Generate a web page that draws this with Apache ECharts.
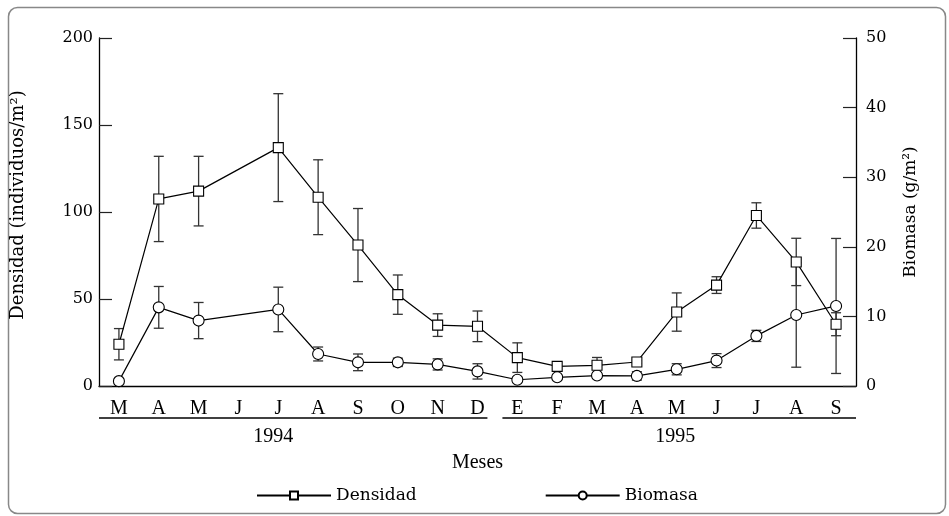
<!DOCTYPE html>
<html>
<head>
<meta charset="utf-8">
<script src="https://cdn.jsdelivr.net/npm/echarts@6/dist/echarts.min.js"></script>
<style>
html,body{margin:0;padding:0;background:#fff;}
#chart{width:949px;height:516px;}
</style>
</head>
<body>
<div id="chart"></div>
<script>
// Months (March 1994 to September 1995)
const months = ['M','A','M','J','J','A','S','O','N','D','E','F','M','A','M','J','J','A','S'];
// Densidad (individuos/m²) mean and error
const densidad = [24, 107.5, 112, null, 137, 108.5, 81, 52.5, 35, 34.3, 16.3, 11.3, 11.9, 13.8, 42.5, 58, 98, 71.3, 35.5];
const densidadErr = [9, 24.5, 20, null, 31, 21.5, 21, 11.3, 6.5, 8.8, 8.5, 0, 4.5, 1, 11, 4.8, 7.3, 13.6, 6.6];
// Biomasa (g/m²) mean and error
const biomasa = [0.7, 11.3, 9.4, null, 11.0, 4.6, 3.4, 3.4, 3.1, 2.1, 0.9, 1.25, 1.5, 1.45, 2.4, 3.65, 7.2, 10.2, 11.5];
const biomasaErr = [0, 3, 2.6, null, 3.2, 1, 1.2, 0.6, 0.8, 1.1, 0.4, 0.3, 0.4, 0.6, 0.8, 1, 0.8, 7.5, 9.7];
// Axis ticks
const leftTicks = {min: 0, max: 200, interval: 50};
const rightTicks = {min: 0, max: 50, interval: 10};
// Year groups: [label, first month index, last month index]
const years = [['1994', 0, 9], ['1995', 10, 18]];

const serifWide = 'DejaVu Serif';
const serifNarrow = 'Liberation Serif';

function errData(vals, errs) {
  const out = [];
  vals.forEach((v, i) => {
    if (v != null && errs[i] > 0) out.push([i, v - errs[i], v + errs[i]]);
  });
  return out;
}

function errRender(params, api) {
  const i = api.value(0);
  const lo = api.coord([i, api.value(1)]);
  const hi = api.coord([i, api.value(2)]);
  const w = 5;
  const st = {stroke: '#333', lineWidth: 1.3};
  return {
    type: 'group',
    children: [
      {type: 'line', shape: {x1: hi[0], y1: hi[1], x2: lo[0], y2: lo[1]}, style: st},
      {type: 'line', shape: {x1: hi[0] - w, y1: hi[1], x2: hi[0] + w, y2: hi[1]}, style: st},
      {type: 'line', shape: {x1: lo[0] - w, y1: lo[1], x2: lo[0] + w, y2: lo[1]}, style: st}
    ]
  };
}

const chart = echarts.init(document.getElementById('chart'), null, {renderer: 'canvas'});
const option = {
  animation: false,
  backgroundColor: '#fff',
  grid: {left: 99, right: 93, top: 38, bottom: 130},
  legend: {
    left: 251, top: 482,
    itemWidth: 74, itemHeight: 10, itemGap: 128,
    textStyle: {fontFamily: serifWide, fontSize: 17, color: '#000'},
    data: ['Densidad', 'Biomasa']
  },
  xAxis: {
    type: 'category',
    data: months,
    boundaryGap: true,
    axisLine: {lineStyle: {color: '#000', width: 1.3}},
    axisTick: {inside: true, length: 13, alignWithLabel: true, lineStyle: {color: '#222', width: 1.2}},
    axisLabel: {fontFamily: serifNarrow, fontSize: 20, color: '#000', margin: 13, interval: 0},
    name: 'Meses',
    nameLocation: 'middle',
    nameGap: 67,
    nameTextStyle: {fontFamily: serifNarrow, fontSize: 20, color: '#000'}
  },
  yAxis: [
    {
      type: 'value', min: leftTicks.min, max: leftTicks.max, interval: leftTicks.interval,
      axisLine: {show: true, lineStyle: {color: '#000', width: 1.3}},
      axisTick: {show: true, inside: true, length: 13, lineStyle: {color: '#222', width: 1.2}},
      splitLine: {show: false},
      axisLabel: {fontFamily: serifWide, fontSize: 16, color: '#000', margin: 6},
      name: 'Densidad (individuos/m²)',
      nameLocation: 'middle', nameGap: 72,
      nameTextStyle: {fontFamily: serifWide, fontSize: 18, color: '#000', padding: [0, 0, 0, 14]}
    },
    {
      type: 'value', min: rightTicks.min, max: rightTicks.max, interval: rightTicks.interval,
      position: 'right',
      axisLine: {show: true, lineStyle: {color: '#000', width: 1.3}},
      axisTick: {show: true, inside: true, length: 13, lineStyle: {color: '#222', width: 1.2}},
      splitLine: {show: false},
      axisLabel: {fontFamily: serifWide, fontSize: 16, color: '#000', margin: 10},
      name: 'Biomasa (g/m²)',
      nameLocation: 'middle', nameGap: 46,
      nameTextStyle: {fontFamily: serifWide, fontSize: 17, color: '#000'}
    }
  ],
  series: [
    {
      type: 'custom', name: 'errD', yAxisIndex: 0, renderItem: errRender,
      data: errData(densidad, densidadErr), encode: {x: 0, y: [1, 2]}, z: 1, silent: true
    },
    {
      type: 'custom', name: 'errB', yAxisIndex: 1, renderItem: errRender,
      data: errData(biomasa, biomasaErr), encode: {x: 0, y: [1, 2]}, z: 1, silent: true
    },
    {
      type: 'line', name: 'Biomasa', yAxisIndex: 1, data: biomasa, connectNulls: true,
      symbol: 'circle', symbolSize: 11, showAllSymbol: true,
      lineStyle: {color: '#000', width: 1.2},
      itemStyle: {color: '#fff', borderColor: '#000', borderWidth: 1.1},
      z: 3
    },
    {
      type: 'line', name: 'Densidad', yAxisIndex: 0, data: densidad, connectNulls: true,
      symbol: 'rect', symbolSize: 10, showAllSymbol: true,
      lineStyle: {color: '#000', width: 1.2},
      itemStyle: {color: '#fff', borderColor: '#000', borderWidth: 1.1},
      z: 4
    }
  ]
};
chart.setOption(option);

// Year underlines and labels, positioned through the category axis
const gfx = [{
  type: 'rect', left: 6, top: 5, shape: {width: 937, height: 506, r: 9},
  style: {fill: 'none', stroke: '#888', lineWidth: 1.5}, silent: true
}];
const step = chart.convertToPixel({xAxisIndex: 0}, 1) - chart.convertToPixel({xAxisIndex: 0}, 0);
years.forEach(([label, a, b], k) => {
  const xa = chart.convertToPixel({xAxisIndex: 0}, a) - step / 2 + (k === 0 ? 0 : 5);
  const xb = chart.convertToPixel({xAxisIndex: 0}, b) + step / 2 - (k === 0 ? 10 : 0);
  gfx.push({type: 'line', shape: {x1: xa, y1: 418, x2: xb, y2: 418}, style: {stroke: '#000', lineWidth: 1.3}, silent: true});
  gfx.push({type: 'text', x: (xa + xb) / 2 - (k === 0 ? 20 : 4), y: 437,
    style: {text: label, font: '20px "' + serifNarrow + '"', fill: '#000', textAlign: 'center', textVerticalAlign: 'middle'}, silent: true});
});
chart.setOption({graphic: gfx});
</script>
</body>
</html>
